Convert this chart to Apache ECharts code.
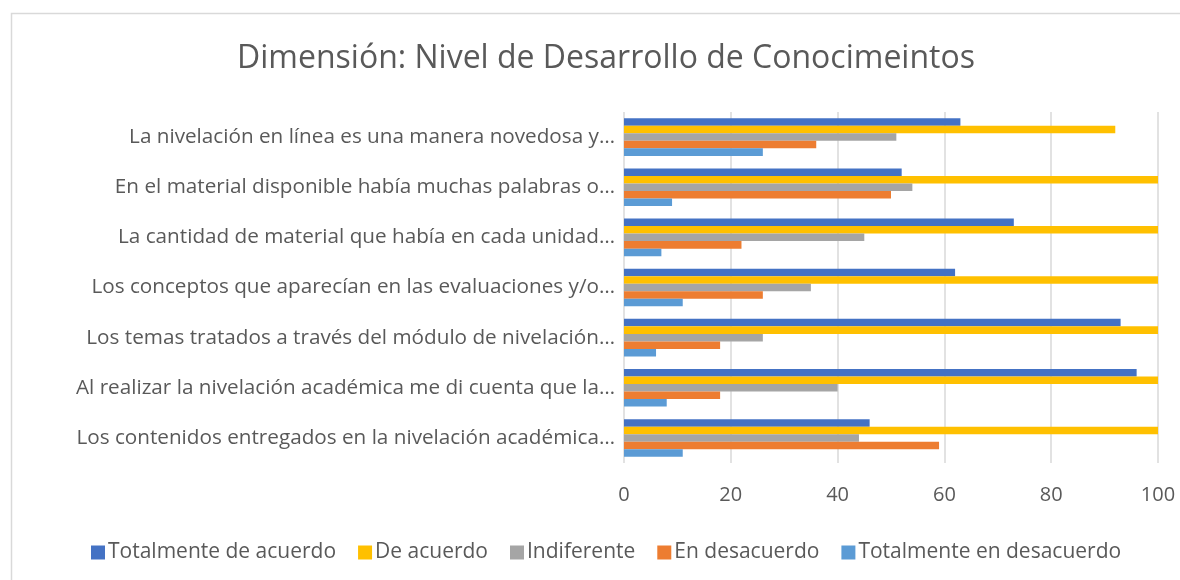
<!DOCTYPE html>
<html>
<head>
<meta charset="utf-8">
<script src="https://cdn.jsdelivr.net/npm/echarts@6/dist/echarts.min.js"></script>
<style>
html,body{margin:0;padding:0;background:#fff;}
#chart{width:1180px;height:580px;}
</style>
</head>
<body>
<div id="chart"></div>
<script>
// Categories listed bottom to top (as ECharts category y axis draws them)
const categories = [
  "Los contenidos entregados en la nivelación académica…",
  "Al realizar la nivelación académica me di cuenta que la…",
  "Los temas tratados a través del módulo de nivelación…",
  "Los conceptos que aparecían en las evaluaciones y/o…",
  "La cantidad de material que había en cada unidad…",
  "En el material disponible había muchas palabras o…",
  "La nivelación en línea es una manera novedosa y…"
];
const seriesNames = ["Totalmente de acuerdo", "De acuerdo", "Indiferente", "En desacuerdo", "Totalmente en desacuerdo"];
const totalmenteDeAcuerdo   = [46, 96, 93, 62, 73, 52, 63];
const deAcuerdo             = [100, 100, 100, 100, 100, 100, 92];
const indiferente           = [44, 40, 26, 35, 45, 54, 51];
const enDesacuerdo          = [59, 18, 18, 26, 22, 50, 36];
const totalmenteEnDesacuerdo= [11, 8, 6, 11, 7, 9, 26];
const xTicks = [0, 20, 40, 60, 80, 100];

const colors = {
  "Totalmente de acuerdo": "#4472C4",
  "De acuerdo": "#FFC000",
  "Indiferente": "#A5A5A5",
  "En desacuerdo": "#ED7D31",
  "Totalmente en desacuerdo": "#5B9BD5"
};
const values = {
  "Totalmente de acuerdo": totalmenteDeAcuerdo,
  "De acuerdo": deAcuerdo,
  "Indiferente": indiferente,
  "En desacuerdo": enDesacuerdo,
  "Totalmente en desacuerdo": totalmenteEnDesacuerdo
};

const FONT = "Open Sans";
const chart = echarts.init(document.getElementById('chart'), null, {renderer: 'canvas'});

const series = seriesNames.map(n => ({
  name: n,
  type: 'bar',
  data: values[n],
  barGap: '0%',
  barCategoryGap: '25%',
  itemStyle: {color: colors[n]},
  emphasis: {disabled: true}
}));

chart.setOption({
  animation: false,
  color: seriesNames.map(n => colors[n]),
  title: {
    text: "Dimensión: Nivel de Desarrollo de Conocimeintos",
    left: 601,
    top: 38,
    textAlign: 'center',
    textStyle: {fontFamily: FONT, fontSize: 32, fontWeight: 'normal', color: '#595959'}
  },
  graphic: [{
    type: 'rect',
    shape: {x: 11.5, y: 13.5, width: 1200, height: 600},
    style: {fill: null, stroke: '#d9d9d9', lineWidth: 1.5},
    silent: true
  }],
  legend: {
    data: seriesNames,
    left: 86,
    top: 537,
    icon: 'rect',
    itemWidth: 14,
    itemHeight: 14,
    itemGap: 22,
    textStyle: {fontFamily: FONT, fontSize: 21, color: '#595959', padding: [0, 0, 0, -2]}
  },
  grid: {left: 624, right: 22, top: 112, bottom: 117, containLabel: false},
  xAxis: {
    type: 'value',
    min: 0,
    max: 100,
    interval: 20,
    axisLine: {show: false},
    axisTick: {show: false},
    axisLabel: {fontFamily: FONT, fontSize: 20, color: '#595959', margin: 22,
      formatter: v => xTicks.includes(v) ? String(v) : ''},
    splitLine: {show: true, lineStyle: {color: '#d9d9d9', width: 1.5}}
  },
  yAxis: {
    type: 'category',
    data: categories,
    axisLine: {show: false},
    axisTick: {show: false},
    axisLabel: {fontFamily: FONT, fontSize: 20.7, color: '#595959', margin: 9}
  },
  series: series
});
</script>
</body>
</html>
